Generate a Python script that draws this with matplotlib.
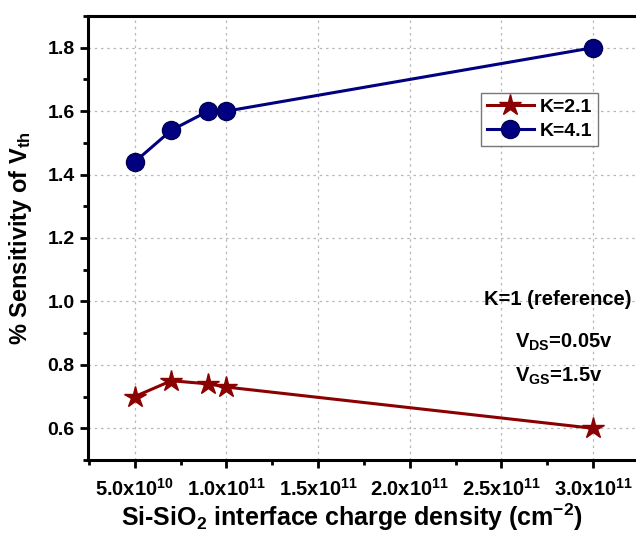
import matplotlib
matplotlib.use("Agg")
import matplotlib.pyplot as plt
from matplotlib.ticker import MultipleLocator, FuncFormatter

plt.rcParams['font.family'] = ['Liberation Sans', 'DejaVu Sans']
plt.rcParams['font.weight'] = 'bold'
plt.rcParams['axes.labelweight'] = 'bold'
plt.rcParams['mathtext.fontset'] = 'custom'
plt.rcParams['mathtext.rm'] = 'Liberation Sans:bold'
plt.rcParams['mathtext.it'] = 'Liberation Sans:bold'
plt.rcParams['mathtext.bf'] = 'Liberation Sans:bold'
plt.rcParams['mathtext.default'] = 'rm'

charge_density = [5e10, 7e10, 9e10, 1e11, 3e11]
sens_k21 = [0.70, 0.75, 0.74, 0.73, 0.60]
sens_k41 = [1.44, 1.54, 1.60, 1.60, 1.80]

fig = plt.figure(figsize=(6.36, 5.35), dpi=100)
ax = fig.add_axes([88 / 636, 1 - 460 / 535, 600 / 636, 444 / 535])

ax.plot(charge_density, sens_k21, color='#8b0000', lw=2.2, marker='*',
        markersize=16, label='K=2.1', zorder=3)
ax.plot(charge_density, sens_k41, color='#000080', lw=2.2, marker='o',
        markersize=13, markeredgecolor='#000050', label='K=4.1', zorder=3)

ax.set_xlim(2.45e10, 3.518e11)
ax.set_ylim(0.5, 1.9)
ax.xaxis.set_major_locator(MultipleLocator(5e10))
ax.xaxis.set_minor_locator(MultipleLocator(2.5e10))
ax.yaxis.set_major_locator(MultipleLocator(0.2))
ax.yaxis.set_minor_locator(MultipleLocator(0.1))


def sci(v, pos):
    if v <= 0 or v > 3.1e11:
        return ''
    exp = len(str(int(v))) - 1
    mant = v / 10 ** exp
    return r'$%.1f\mathregular{x10}^{%d}$' % (mant, exp)


ax.xaxis.set_major_formatter(FuncFormatter(sci))
ax.yaxis.set_major_formatter(FuncFormatter(lambda v, p: '%.1f' % v))

ax.grid(True, which='major', color='#b8b8b8', linestyle=(0, (2, 3)), lw=0.9)
for side in ['left', 'bottom', 'top']:
    ax.spines[side].set_linewidth(2.2)
ax.spines['right'].set_visible(False)
ax.tick_params(which='major', direction='out', length=6, width=2, labelsize=14.5)
ax.tick_params(which='minor', direction='out', length=3.5, width=2)
ax.tick_params(axis='y', labelsize=14)
ax.tick_params(axis='x', pad=7)

ax.set_xlabel('Si-SiO$_2$ interface charge density (cm$^{\\mathregular{-2}}$)',
              fontsize=18, labelpad=3)
ax.xaxis.set_label_coords(0.44, -0.093)
ax.set_ylabel('% Sensitivity of V$_{th}$', fontsize=17, labelpad=10)

leg = ax.legend(loc='upper left', bbox_to_anchor=(0.655, 0.827), fontsize=14,
                frameon=True, fancybox=False, handlelength=2.4, borderpad=0.3,
                labelspacing=0.3, handletextpad=0.3, borderaxespad=0)
leg.get_frame().set_edgecolor('#555555')
leg.get_frame().set_linewidth(1)

ax.text(3.21e11, 1.005, 'K=1 (reference)', fontsize=14.5, ha='right', va='center')
ax.text(2.575e11, 0.872, 'V$_{DS}$=0.05v', fontsize=14.5, ha='left', va='center')
ax.text(2.575e11, 0.765, 'V$_{GS}$=1.5v', fontsize=14.5, ha='left', va='center')

fig.savefig('out.png', dpi=100)
